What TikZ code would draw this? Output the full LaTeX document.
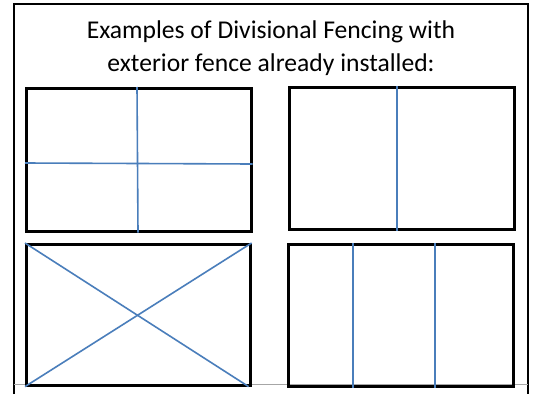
\documentclass[tikz,border=0pt]{standalone}
\usepackage{fontspec}
\setmainfont{Carlito}
\usetikzlibrary{calc}
\definecolor{fenceblue}{RGB}{74,126,187}
\begin{document}
\begin{tikzpicture}[x=1pt,y=-1pt,
  paddock/.style={draw=black,line width=2.6pt},
  divider/.style={draw=fenceblue,line width=1.6pt},
  frameline/.style={draw=black,line width=1.6pt},
  titletext/.style={font=\fontsize{25.6}{26}\selectfont,inner sep=0pt,anchor=base}]
\useasboundingbox (0,0) rectangle (535,394);
\fill[white] (0,0) rectangle (535,394);
% outer frame
\coordinate (fl) at (14,394);
\coordinate (ftl) at (14,4);
\coordinate (ftr) at (528,4);
\coordinate (fr) at (528,394);
\draw[frameline] (fl) -- (ftl) -- (ftr) -- (fr);
\coordinate (bl) at (14,384);
\coordinate (br) at (528,384);
\draw[gray!70,line width=0.8pt] (bl) -- (br);
% title
\node[titletext] (title) at (271,38.5) {Examples of Divisional Fencing with};
\node[titletext] (title2) at (271,71.5) {exterior fence already installed:};
% top-left paddock
\node[paddock,minimum width=225pt,minimum height=143pt,anchor=north west,inner sep=0pt] (p1) at (25,87) {};
\draw[divider] ($(p1.north west)+(112,0)$) -- ($(p1.south west)+(113,0)$);
\draw[divider] ($(p1.north west)+(0,76)$) -- ($(p1.north east)+(0,77)$);
% top-right paddock
\node[paddock,minimum width=225pt,minimum height=142pt,anchor=north west,inner sep=0pt] (p2) at (288,86) {};
\draw[divider] ($(p2.north west)+(109,0)$) -- ($(p2.south west)+(109,0)$);
% bottom-left paddock
\node[paddock,minimum width=224pt,minimum height=141pt,anchor=north west,inner sep=0pt] (p3) at (25,243) {};
\draw[divider] (p3.north west) -- ($(p3.south east)+(-3,0)$);
\draw[divider] (p3.south west) -- (p3.north east);
% bottom-right paddock
\node[paddock,minimum width=225pt,minimum height=142pt,anchor=north west,inner sep=0pt] (p4) at (287,243) {};
\draw[divider] ($(p4.north west)+(66,0)$) -- ($(p4.south west)+(66,0)$);
\draw[divider] ($(p4.north west)+(148,0)$) -- ($(p4.south west)+(148,0)$);
\end{tikzpicture}
\end{document}
